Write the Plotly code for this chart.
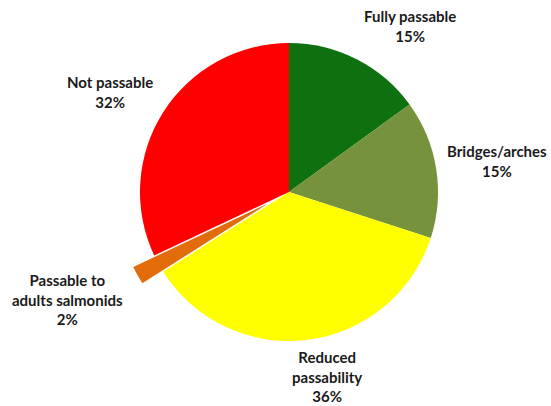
import plotly.graph_objects as go

# Fish passage categories, clockwise from 12 o'clock
categories = ["Fully passable", "Bridges/arches", "Reduced passability",
              "Passable to adults salmonids", "Not passable"]
shares = [15, 15, 36, 2, 32]
colors = ["#0E700E", "#76923C", "#FFFF00", "#E36C0A", "#FF0000"]
pulls = [0, 0, 0, 0.16, 0]

# Label text broken over lines, and label anchor positions (pixels)
label_lines = [["Fully passable"], ["Bridges/arches"], ["Reduced", "passability"],
               ["Passable to", "adults salmonids"], ["Not passable"]]
label_xy = [(410, 26), (497, 161), (327, 376), (67, 299), (110, 92)]

W, H = 551, 406
cx, cy, r = 289, 192, 149
span = r * (1 + max(pulls))

fig = go.Figure(go.Pie(
    labels=categories,
    values=shares,
    sort=False,
    direction="clockwise",
    rotation=0,
    pull=pulls,
    textinfo="none",
    hoverinfo="label+percent",
    marker=dict(colors=colors, line=dict(width=0)),
    domain=dict(x=[(cx - span) / W, (cx + span) / W],
                y=[1 - (cy + span) / H, 1 - (cy - span) / H]),
    showlegend=False,
))

for lines, v, (x, y) in zip(label_lines, shares, label_xy):
    fig.add_annotation(
        text="<br>".join(lines + [f"{v}%"]),
        x=x / W, y=1 - y / H, xref="paper", yref="paper",
        xanchor="center", yanchor="middle", showarrow=False,
        font=dict(family="Lato", size=15, color="#1a1a1a", weight="bold"),
        align="center",
    )

fig.update_layout(
    width=W, height=H,
    margin=dict(l=0, r=0, t=0, b=0),
    paper_bgcolor="white", plot_bgcolor="white",
)

fig.write_html("out.html")
